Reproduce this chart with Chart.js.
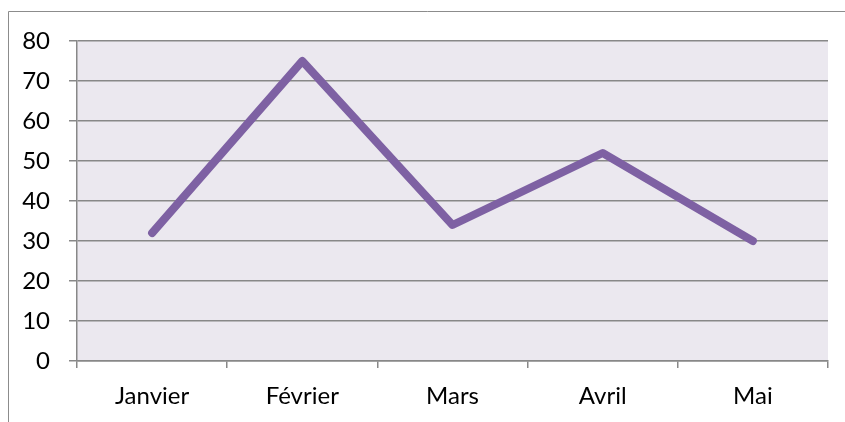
<!DOCTYPE html>
<html><head><meta charset="utf-8">
<script src="https://cdn.jsdelivr.net/npm/chart.js@4/dist/chart.umd.min.js"></script>
<style>html,body{margin:0;padding:0;background:#fff;overflow:hidden}#wrap{width:845px;height:422px}</style>
</head><body><div id="wrap"><canvas id="c" width="845" height="422"></canvas></div>
<script>
const categories = ['Janvier', 'Février', 'Mars', 'Avril', 'Mai'];
const values = [32, 75, 34, 52, 30];
const yTicks = [0, 10, 20, 30, 40, 50, 60, 70, 80];

const bgPlugin = {
  id: 'bg',
  beforeDraw(chart) {
    const {ctx, chartArea: a} = chart;
    ctx.save();
    ctx.fillStyle = '#fff';
    ctx.fillRect(0, 0, chart.width, chart.height);
    ctx.fillStyle = '#EBE8EF';
    ctx.fillRect(a.left, a.top, a.right - a.left, a.bottom - a.top);
    ctx.strokeStyle = '#8c8c8c';
    ctx.lineWidth = 1;
    ctx.beginPath();
    ctx.moveTo(8.5, chart.height + 5);
    ctx.lineTo(8.5, 11.5);
    ctx.lineTo(chart.width + 5, 11.5);
    ctx.stroke();
    ctx.restore();
  }
};

Chart.defaults.font.family = 'Lato, "Open Sans", sans-serif';
new Chart(document.getElementById('c'), {
  type: 'line',
  data: {
    labels: categories,
    datasets: [{
      data: values,
      borderColor: '#7E61A3',
      borderWidth: 8,
      borderCapStyle: 'round',
      borderJoinStyle: 'round',
      pointRadius: 0,
      tension: 0,
      fill: false
    }]
  },
  options: {
    responsive: false,
    animation: false,
    layout: {padding: {left: 0, top: 41, right: 17, bottom: 0}},
    plugins: {legend: {display: false}, tooltip: {enabled: false}},
    scales: {
      x: {
        type: 'category',
        offset: true,
        grid: {offset: true, drawOnChartArea: false, drawTicks: true, tickLength: 7, color: '#888', lineWidth: 1.5},
        border: {display: true, color: '#888', width: 1.5},
        ticks: {color: '#000', font: {size: 24}, padding: 14},
        afterFit(s) { s.height = 61; }
      },
      y: {
        min: 0, max: 80,
        afterBuildTicks(s) { s.ticks = yTicks.map(v => ({value: v})); },
        grid: {color: '#888', lineWidth: 1.5, tickLength: 8},
        border: {display: true, color: '#888', width: 1.5},
        ticks: {color: '#000', font: {size: 24}, padding: 19},
        afterFit(s) { s.width = 77; }
      }
    }
  },
  plugins: [bgPlugin]
});
</script></body></html>
